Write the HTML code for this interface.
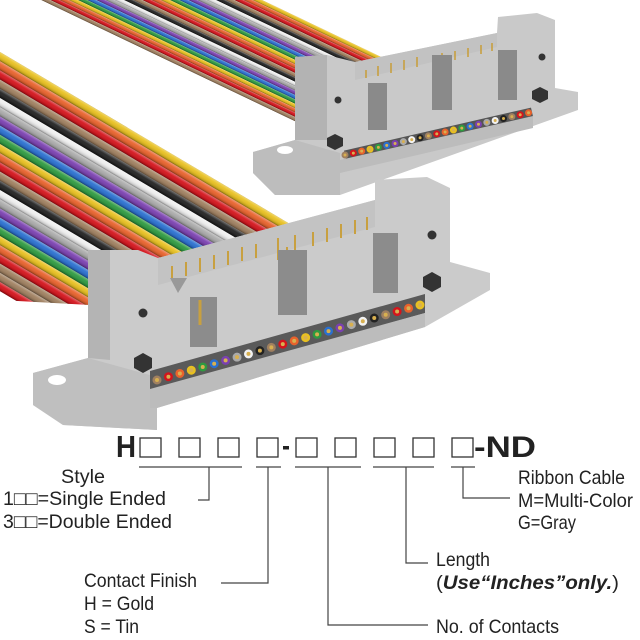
<!DOCTYPE html>
<html><head><meta charset="utf-8"><style>
html,body{margin:0;padding:0;background:#fff;width:640px;height:640px;overflow:hidden}
svg{display:block}
text{font-family:"Liberation Sans",sans-serif;fill:#222}
</style></head><body>
<svg width="640" height="640" viewBox="0 0 640 640" xmlns="http://www.w3.org/2000/svg">
<defs>
<linearGradient id="tg" x1="0" y1="0" x2="0" y2="1">
<stop offset="0" stop-color="#fff" stop-opacity="0.35"/>
<stop offset="0.35" stop-color="#fff" stop-opacity="0.05"/>
<stop offset="0.8" stop-color="#000" stop-opacity="0.15"/>
<stop offset="1" stop-color="#000" stop-opacity="0.45"/>
</linearGradient>
<pattern id="tube" patternUnits="userSpaceOnUse" width="500" height="9.2" x="0" y="0">
<rect width="500" height="9.2" fill="url(#tg)"/>
</pattern>
<clipPath id="cf"><polygon points="0,40 300,215 300,240 90,305 0,300"/></clipPath>
<clipPath id="cb"><polygon points="0,0 420,0 420,50 300,135 0,135"/></clipPath>
</defs>

<g clip-path="url(#cb)">
<g transform="matrix(0.9,0.43,-1,0,262,0)">
<rect x="-60" y="0" width="420" height="9.2" fill="#e8c020"/>
<rect x="-60" y="9.2" width="420" height="9.2" fill="#e8622c"/>
<rect x="-60" y="18.4" width="420" height="9.2" fill="#d4141c"/>
<rect x="-60" y="27.6" width="420" height="9.2" fill="#a08060"/>
<rect x="-60" y="36.8" width="420" height="9.2" fill="#222"/>
<rect x="-60" y="46" width="420" height="9.2" fill="#eee"/>
<rect x="-60" y="55.2" width="420" height="9.2" fill="#aaa"/>
<rect x="-60" y="64.4" width="420" height="9.2" fill="#7a40b0"/>
<rect x="-60" y="73.6" width="420" height="9.2" fill="#2a70d0"/>
<rect x="-60" y="82.8" width="420" height="9.2" fill="#2e9a40"/>
<rect x="-60" y="92" width="420" height="9.2" fill="#e8c020"/>
<rect x="-60" y="101.2" width="420" height="9.2" fill="#e8622c"/>
<rect x="-60" y="110.4" width="420" height="9.2" fill="#d4141c"/>
<rect x="-60" y="119.6" width="420" height="9.2" fill="#a08060"/>
<rect x="-60" y="128.8" width="420" height="9.2" fill="#222"/>
<rect x="-60" y="138" width="420" height="9.2" fill="#eee"/>
<rect x="-60" y="147.2" width="420" height="9.2" fill="#aaa"/>
<rect x="-60" y="156.4" width="420" height="9.2" fill="#7a40b0"/>
<rect x="-60" y="165.6" width="420" height="9.2" fill="#2a70d0"/>
<rect x="-60" y="174.8" width="420" height="9.2" fill="#2e9a40"/>
<rect x="-60" y="184" width="420" height="9.2" fill="#e8c020"/>
<rect x="-60" y="193.2" width="420" height="9.2" fill="#e8622c"/>
<rect x="-60" y="202.4" width="420" height="9.2" fill="#d4141c"/>
<rect x="-60" y="211.6" width="420" height="9.2" fill="#a08060"/>
<rect x="-60" y="0" width="420" height="221" fill="url(#tube)"/>
</g>
</g>

<g clip-path="url(#cf)">
<g transform="matrix(0.858,0.509,0,1,0,52)">
<rect x="-60" y="0" width="420" height="9.2" fill="#e8c020"/>
<rect x="-60" y="9.2" width="420" height="9.2" fill="#e8622c"/>
<rect x="-60" y="18.4" width="420" height="9.2" fill="#d4141c"/>
<rect x="-60" y="27.6" width="420" height="9.2" fill="#a08060"/>
<rect x="-60" y="36.8" width="420" height="9.2" fill="#222"/>
<rect x="-60" y="46" width="420" height="9.2" fill="#eee"/>
<rect x="-60" y="55.2" width="420" height="9.2" fill="#aaa"/>
<rect x="-60" y="64.4" width="420" height="9.2" fill="#7a40b0"/>
<rect x="-60" y="73.6" width="420" height="9.2" fill="#2a70d0"/>
<rect x="-60" y="82.8" width="420" height="9.2" fill="#2e9a40"/>
<rect x="-60" y="92" width="420" height="9.2" fill="#e8c020"/>
<rect x="-60" y="101.2" width="420" height="9.2" fill="#e8622c"/>
<rect x="-60" y="110.4" width="420" height="9.2" fill="#d4141c"/>
<rect x="-60" y="119.6" width="420" height="9.2" fill="#a08060"/>
<rect x="-60" y="128.8" width="420" height="9.2" fill="#222"/>
<rect x="-60" y="138" width="420" height="9.2" fill="#eee"/>
<rect x="-60" y="147.2" width="420" height="9.2" fill="#aaa"/>
<rect x="-60" y="156.4" width="420" height="9.2" fill="#7a40b0"/>
<rect x="-60" y="165.6" width="420" height="9.2" fill="#2a70d0"/>
<rect x="-60" y="174.8" width="420" height="9.2" fill="#2e9a40"/>
<rect x="-60" y="184" width="420" height="9.2" fill="#e8c020"/>
<rect x="-60" y="193.2" width="420" height="9.2" fill="#e8622c"/>
<rect x="-60" y="202.4" width="420" height="9.2" fill="#d4141c"/>
<rect x="-60" y="211.6" width="420" height="9.2" fill="#a08060"/>
<rect x="-60" y="220.8" width="420" height="9.2" fill="#a08060"/>
<rect x="-60" y="230" width="420" height="9.2" fill="#d4141c"/>
<rect x="-60" y="0" width="420" height="240" fill="url(#tube)"/>
</g>
</g>

<!-- BACK CONNECTOR -->
<polygon points="295,57 327,55 355,62 497,33 498,17 537,13 555,20 555,88 578,92 578,110 340,195 275,195 253,173 253,152 295,140" fill="#c9c9c9"/>
<polygon points="253,152 295,140 340,153 340,195 275,195 253,173" fill="#bdbdbd"/>
<polygon points="295,57 327,55 327,140 295,140" fill="#b3b3b3"/>
<polygon points="355,62 497,33 497,47 355,80" fill="#c2c2c2"/>
<g stroke="#c8a040" stroke-width="1.6">
<line x1="366" y1="70" x2="366" y2="78"/><line x1="378" y1="66" x2="378" y2="76"/><line x1="391" y1="63" x2="391" y2="73"/>
<line x1="404" y1="60" x2="404" y2="70"/><line x1="417" y1="57" x2="417" y2="67"/><line x1="442" y1="53" x2="442" y2="100"/>
<line x1="436" y1="58" x2="436" y2="105"/><line x1="455" y1="51" x2="455" y2="60"/><line x1="468" y1="48" x2="468" y2="57"/>
<line x1="481" y1="45" x2="481" y2="54"/><line x1="492" y1="43" x2="492" y2="51"/>
</g>
<rect x="368" y="83" width="19" height="47" fill="#8a8a8a"/>
<rect x="432" y="55" width="20" height="55" fill="#8a8a8a"/>
<rect x="498" y="50" width="19" height="50" fill="#8a8a8a"/>
<polygon points="335,134 343,138 343,146 335,150 327,146 327,138" fill="#333"/>
<polygon points="540,87 548,91 548,99 540,103 532,99 532,91" fill="#333"/>
<circle cx="338" cy="100" r="3.5" fill="#333"/>
<circle cx="542" cy="57" r="3.5" fill="#333"/>
<line x1="345" y1="155" x2="532" y2="112" stroke="#555" stroke-width="9"/>
<g stroke-width="7" stroke-linecap="round" fill="none">
<line x1="345" y1="155" x2="532" y2="112" stroke="#a08060" stroke-dasharray="0 85.6" stroke-dashoffset="0"/>
<line x1="345" y1="155" x2="532" y2="112" stroke="#d4141c" stroke-dasharray="0 85.6" stroke-dashoffset="-8.56"/>
<line x1="345" y1="155" x2="532" y2="112" stroke="#e8622c" stroke-dasharray="0 85.6" stroke-dashoffset="-17.12"/>
<line x1="345" y1="155" x2="532" y2="112" stroke="#e8c020" stroke-dasharray="0 85.6" stroke-dashoffset="-25.68"/>
<line x1="345" y1="155" x2="532" y2="112" stroke="#2e9a40" stroke-dasharray="0 85.6" stroke-dashoffset="-34.24"/>
<line x1="345" y1="155" x2="532" y2="112" stroke="#2a70d0" stroke-dasharray="0 85.6" stroke-dashoffset="-42.8"/>
<line x1="345" y1="155" x2="532" y2="112" stroke="#7a40b0" stroke-dasharray="0 85.6" stroke-dashoffset="-51.36"/>
<line x1="345" y1="155" x2="532" y2="112" stroke="#aaa" stroke-dasharray="0 85.6" stroke-dashoffset="-59.92"/>
<line x1="345" y1="155" x2="532" y2="112" stroke="#f2f2f2" stroke-dasharray="0 85.6" stroke-dashoffset="-68.48"/>
<line x1="345" y1="155" x2="532" y2="112" stroke="#222" stroke-dasharray="0 85.6" stroke-dashoffset="-77.04"/>
<line x1="345" y1="155" x2="532" y2="112" stroke="#d8b050" stroke-width="3" stroke-dasharray="0 8.56"/>
</g>
<polygon points="340,160 533,116 533,128 340,173" fill="#bcbcbc"/>

<!-- FRONT CONNECTOR -->
<polygon points="88,250 138,250 158,258 375,200 375,180 427,177 450,188 450,262 490,273 490,290 425,327 157,408 157,430 63,425 33,405 33,373 88,358" fill="#cbcbcb"/>
<polygon points="33,373 88,358 157,377 157,430 63,425 33,405" fill="#bfbfbf"/>
<polygon points="88,250 110,250 110,360 88,358" fill="#b4b4b4"/>
<polygon points="158,258 375,200 375,227 158,285" fill="#c3c3c3"/>
<g stroke="#c8a040" stroke-width="2">
<line x1="172" y1="266" x2="172" y2="280"/><line x1="186" y1="262" x2="186" y2="276"/><line x1="200" y1="258" x2="200" y2="272"/>
<line x1="214" y1="255" x2="214" y2="269"/><line x1="228" y1="251" x2="228" y2="265"/><line x1="242" y1="247" x2="242" y2="261"/>
<line x1="256" y1="244" x2="256" y2="258"/><line x1="278" y1="238" x2="278" y2="260"/><line x1="287" y1="247" x2="287" y2="297"/>
<line x1="295" y1="235" x2="295" y2="290"/><line x1="313" y1="232" x2="313" y2="246"/><line x1="327" y1="228" x2="327" y2="242"/>
<line x1="341" y1="224" x2="341" y2="238"/><line x1="355" y1="220" x2="355" y2="234"/><line x1="367" y1="217" x2="367" y2="230"/>
</g>
<rect x="190" y="297" width="27" height="50" fill="#8c8c8c"/>
<rect x="278" y="250" width="29" height="65" fill="#8c8c8c"/>
<rect x="373" y="233" width="25" height="60" fill="#8c8c8c"/>
<line x1="200" y1="300" x2="200" y2="325" stroke="#c8a040" stroke-width="3"/>
<polygon points="170,278 187,278 178,293" fill="#999"/>
<polygon points="143,353 152,358 152,368 143,373 134,368 134,358" fill="#333"/>
<polygon points="432,272 441,277 441,287 432,292 423,287 423,277" fill="#333"/>
<circle cx="143" cy="313" r="4.5" fill="#333"/>
<circle cx="432" cy="235" r="4.5" fill="#333"/>
<ellipse cx="57" cy="380" rx="9" ry="5" fill="#fff"/>
<ellipse cx="285" cy="150" rx="8" ry="4" fill="#fff"/>
<polygon points="150,371 425,294 425,313 150,391" fill="#5a5a5a"/>
<polygon points="150,389 425,313 425,327 157,408 150,408" fill="#bcbcbc"/>
<g stroke-width="9" stroke-linecap="round" fill="none">
<line x1="157" y1="380" x2="420" y2="305" stroke="#a08060" stroke-dasharray="0 118.9" stroke-dashoffset="0"/>
<line x1="157" y1="380" x2="420" y2="305" stroke="#d4141c" stroke-dasharray="0 118.9" stroke-dashoffset="-11.89"/>
<line x1="157" y1="380" x2="420" y2="305" stroke="#e8622c" stroke-dasharray="0 118.9" stroke-dashoffset="-23.78"/>
<line x1="157" y1="380" x2="420" y2="305" stroke="#e8c020" stroke-dasharray="0 118.9" stroke-dashoffset="-35.67"/>
<line x1="157" y1="380" x2="420" y2="305" stroke="#2e9a40" stroke-dasharray="0 118.9" stroke-dashoffset="-47.56"/>
<line x1="157" y1="380" x2="420" y2="305" stroke="#2a70d0" stroke-dasharray="0 118.9" stroke-dashoffset="-59.45"/>
<line x1="157" y1="380" x2="420" y2="305" stroke="#7a40b0" stroke-dasharray="0 118.9" stroke-dashoffset="-71.34"/>
<line x1="157" y1="380" x2="420" y2="305" stroke="#aaa" stroke-dasharray="0 118.9" stroke-dashoffset="-83.23"/>
<line x1="157" y1="380" x2="420" y2="305" stroke="#f2f2f2" stroke-dasharray="0 118.9" stroke-dashoffset="-95.12"/>
<line x1="157" y1="380" x2="420" y2="305" stroke="#222" stroke-dasharray="0 118.9" stroke-dashoffset="-107.01"/>
<line x1="157" y1="380" x2="420" y2="305" stroke="#d8b050" stroke-width="4" stroke-dasharray="0 11.89"/>
</g>

<!-- PART NUMBER -->
<text x="116" y="457" font-size="31" font-weight="bold" textLength="20" lengthAdjust="spacingAndGlyphs">H</text>
<g fill="none" stroke="#333" stroke-width="1.3">
<rect x="140" y="438" width="21" height="19"/><rect x="179" y="438" width="21" height="19"/>
<rect x="218" y="438" width="21" height="19"/><rect x="257" y="438" width="21" height="19"/>
<rect x="296" y="438" width="21" height="19"/><rect x="335" y="438" width="21" height="19"/>
<rect x="374" y="438" width="21" height="19"/><rect x="413" y="438" width="21" height="19"/>
<rect x="452" y="438" width="21" height="19"/>
</g>
<rect x="283" y="446" width="6" height="3.5" fill="#222"/>
<text x="474" y="457" font-size="30" font-weight="bold" textLength="62" lengthAdjust="spacingAndGlyphs">-ND</text>

<g stroke="#444" stroke-width="1.2" fill="none">
<line x1="139" y1="467" x2="242" y2="467"/><line x1="256" y1="467" x2="281" y2="467"/>
<line x1="295" y1="467" x2="361" y2="467"/><line x1="373" y1="467" x2="434" y2="467"/>
<line x1="451" y1="467" x2="475" y2="467"/>
<polyline points="209,467 209,500 198,500"/>
<polyline points="268,467 268,583 221,583"/>
<polyline points="328,467 328,625 428,625"/>
<polyline points="406,467 406,563 428,563"/>
<polyline points="463,467 463,498 510,498"/>
</g>

<g font-size="19.5">
<text x="61" y="483" textLength="44" lengthAdjust="spacingAndGlyphs">Style</text>
<text x="3" y="505" textLength="163" lengthAdjust="spacingAndGlyphs">1□□=Single Ended</text>
<text x="3" y="528" textLength="169" lengthAdjust="spacingAndGlyphs">3□□=Double Ended</text>
<text x="84" y="587" textLength="113" lengthAdjust="spacingAndGlyphs">Contact Finish</text>
<text x="84" y="610" textLength="70" lengthAdjust="spacingAndGlyphs">H = Gold</text>
<text x="84" y="633" textLength="55" lengthAdjust="spacingAndGlyphs">S = Tin</text>
<text x="436" y="633" textLength="123" lengthAdjust="spacingAndGlyphs">No. of Contacts</text>
<text x="436" y="566" textLength="54" lengthAdjust="spacingAndGlyphs">Length</text>
<text x="436" y="589" textLength="183" lengthAdjust="spacingAndGlyphs">(<tspan font-weight="bold" font-style="italic">Use“Inches”only.</tspan>)</text>
<text x="518" y="484" textLength="107" lengthAdjust="spacingAndGlyphs">Ribbon Cable</text>
<text x="518" y="507" textLength="115" lengthAdjust="spacingAndGlyphs">M=Multi-Color</text>
<text x="518" y="529" textLength="58" lengthAdjust="spacingAndGlyphs">G=Gray</text>
</g>
</svg>
</body></html>
